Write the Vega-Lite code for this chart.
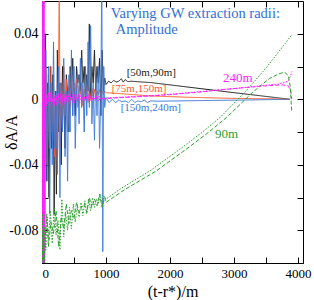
{
  "$schema": "https://vega.github.io/schema/vega-lite/v6.json",
  "width": 261,
  "height": 262,
  "autosize": "none",
  "padding": {"left": 42, "top": 1, "right": 11, "bottom": 37},
  "background": "white",
  "config": {
    "font": "Liberation Serif",
    "view": {"stroke": "black", "strokeWidth": 1},
    "axis": {"grid": false, "domainColor": "black", "tickColor": "black", "labelColor": "black", "titleColor": "black", "labelFont": "Liberation Serif", "titleFont": "Liberation Serif", "titleFontWeight": "normal", "labelFontSize": 14, "titleFontSize": 16}
  },
  "datasets": {
    "lines": [
      {"s":"[50m,90m]","t":0,"v":0.02},{"s":"[50m,90m]","t":10,"v":-0.11},{"s":"[50m,90m]","t":20,"v":0.07},{"s":"[50m,90m]","t":30,"v":-0.06},{"s":"[50m,90m]","t":50,"v":0.04},{"s":"[50m,90m]","t":70,"v":-0.05},{"s":"[50m,90m]","t":90,"v":0.01},{"s":"[50m,90m]","t":110,"v":-0.06},{"s":"[50m,90m]","t":130,"v":0.02},{"s":"[50m,90m]","t":150,"v":-0.03},{"s":"[50m,90m]","t":170,"v":0.015},{"s":"[50m,90m]","t":190,"v":-0.07},{"s":"[50m,90m]","t":210,"v":0.005},{"s":"[50m,90m]","t":225,"v":-0.058},{"s":"[50m,90m]","t":240,"v":0.03},{"s":"[50m,90m]","t":260,"v":-0.02},{"s":"[50m,90m]","t":280,"v":0.01},{"s":"[50m,90m]","t":300,"v":-0.04},{"s":"[50m,90m]","t":320,"v":0.02},{"s":"[50m,90m]","t":340,"v":0.0},{"s":"[50m,90m]","t":360,"v":-0.03},{"s":"[50m,90m]","t":380,"v":0.015},{"s":"[50m,90m]","t":400,"v":0.005},{"s":"[50m,90m]","t":420,"v":-0.02},{"s":"[50m,90m]","t":440,"v":0.02},{"s":"[50m,90m]","t":460,"v":0.0},{"s":"[50m,90m]","t":480,"v":0.025},{"s":"[50m,90m]","t":500,"v":0.005},{"s":"[50m,90m]","t":520,"v":-0.01},{"s":"[50m,90m]","t":540,"v":0.02},{"s":"[50m,90m]","t":560,"v":0.01},{"s":"[50m,90m]","t":580,"v":0.015},{"s":"[50m,90m]","t":600,"v":0.005},{"s":"[50m,90m]","t":620,"v":0.03},{"s":"[50m,90m]","t":640,"v":0.01},{"s":"[50m,90m]","t":660,"v":0.02},{"s":"[50m,90m]","t":680,"v":0.0},{"s":"[50m,90m]","t":700,"v":0.015},{"s":"[50m,90m]","t":720,"v":0.005},{"s":"[50m,90m]","t":740,"v":0.046},{"s":"[50m,90m]","t":760,"v":0.0},{"s":"[50m,90m]","t":780,"v":0.02},{"s":"[50m,90m]","t":800,"v":0.01},{"s":"[50m,90m]","t":820,"v":0.03},{"s":"[50m,90m]","t":840,"v":0.005},{"s":"[50m,90m]","t":860,"v":0.02},{"s":"[50m,90m]","t":880,"v":0.01},{"s":"[50m,90m]","t":900,"v":0.025},{"s":"[50m,90m]","t":920,"v":-0.01},{"s":"[50m,90m]","t":940,"v":0.03},{"s":"[50m,90m]","t":960,"v":0.005},{"s":"[50m,90m]","t":980,"v":0.013},{"s":"[50m,90m]","t":1000,"v":0.009},{"s":"[50m,90m]","t":1040,"v":0.011},{"s":"[50m,90m]","t":1080,"v":0.01},{"s":"[50m,90m]","t":1120,"v":0.0115},{"s":"[50m,90m]","t":1160,"v":0.0105},{"s":"[50m,90m]","t":1200,"v":0.011},{"s":"[50m,90m]","t":1240,"v":0.0125},{"s":"[50m,90m]","t":1270,"v":0.0105},{"s":"[50m,90m]","t":1300,"v":0.012},{"s":"[50m,90m]","t":1340,"v":0.0108},{"s":"[50m,90m]","t":1400,"v":0.011},{"s":"[50m,90m]","t":1500,"v":0.0107},{"s":"[50m,90m]","t":1700,"v":0.0102},{"s":"[50m,90m]","t":2100,"v":0.0083},{"s":"[50m,90m]","t":2500,"v":0.0064},{"s":"[50m,90m]","t":2940,"v":0.0043},{"s":"[50m,90m]","t":3400,"v":0.0022},{"s":"[50m,90m]","t":3870,"v":0.0},

      {"s":"[75m,150m]","t":0,"v":-0.02},{"s":"[75m,150m]","t":20,"v":0.05},{"s":"[75m,150m]","t":40,"v":-0.08},{"s":"[75m,150m]","t":60,"v":0.02},{"s":"[75m,150m]","t":80,"v":-0.04},{"s":"[75m,150m]","t":100,"v":0.015},{"s":"[75m,150m]","t":120,"v":-0.03},{"s":"[75m,150m]","t":140,"v":0.02},{"s":"[75m,150m]","t":160,"v":-0.02},{"s":"[75m,150m]","t":180,"v":0.01},{"s":"[75m,150m]","t":200,"v":-0.035},{"s":"[75m,150m]","t":220,"v":0.0},{"s":"[75m,150m]","t":240,"v":-0.046},{"s":"[75m,150m]","t":260,"v":0.03},{"s":"[75m,150m]","t":270,"v":0.065},{"s":"[75m,150m]","t":285,"v":-0.03},{"s":"[75m,150m]","t":300,"v":0.01},{"s":"[75m,150m]","t":320,"v":-0.015},{"s":"[75m,150m]","t":340,"v":0.02},{"s":"[75m,150m]","t":360,"v":-0.01},{"s":"[75m,150m]","t":380,"v":0.012},{"s":"[75m,150m]","t":400,"v":-0.02},{"s":"[75m,150m]","t":420,"v":0.008},{"s":"[75m,150m]","t":440,"v":-0.005},{"s":"[75m,150m]","t":460,"v":0.015},{"s":"[75m,150m]","t":480,"v":-0.01},{"s":"[75m,150m]","t":500,"v":0.01},{"s":"[75m,150m]","t":520,"v":0.0},{"s":"[75m,150m]","t":540,"v":0.012},{"s":"[75m,150m]","t":560,"v":-0.005},{"s":"[75m,150m]","t":580,"v":0.008},{"s":"[75m,150m]","t":600,"v":0.003},{"s":"[75m,150m]","t":620,"v":0.01},{"s":"[75m,150m]","t":640,"v":-0.004},{"s":"[75m,150m]","t":660,"v":0.006},{"s":"[75m,150m]","t":680,"v":0.002},{"s":"[75m,150m]","t":700,"v":0.008},{"s":"[75m,150m]","t":720,"v":-0.002},{"s":"[75m,150m]","t":740,"v":0.006},{"s":"[75m,150m]","t":760,"v":0.0},{"s":"[75m,150m]","t":780,"v":0.007},{"s":"[75m,150m]","t":800,"v":0.002},{"s":"[75m,150m]","t":820,"v":0.006},{"s":"[75m,150m]","t":840,"v":0.0},{"s":"[75m,150m]","t":860,"v":0.005},{"s":"[75m,150m]","t":880,"v":0.003},{"s":"[75m,150m]","t":900,"v":0.006},{"s":"[75m,150m]","t":920,"v":0.001},{"s":"[75m,150m]","t":940,"v":0.005},{"s":"[75m,150m]","t":960,"v":0.003},{"s":"[75m,150m]","t":980,"v":0.005},{"s":"[75m,150m]","t":1000,"v":0.004},{"s":"[75m,150m]","t":1200,"v":0.0035},{"s":"[75m,150m]","t":1700,"v":0.002},{"s":"[75m,150m]","t":2300,"v":0.0012},{"s":"[75m,150m]","t":2900,"v":0.0006},{"s":"[75m,150m]","t":3500,"v":0.0003},{"s":"[75m,150m]","t":3870,"v":0.0},

      {"s":"[150m,240m]","t":0,"v":0.0},{"s":"[150m,240m]","t":20,"v":0.04},{"s":"[150m,240m]","t":40,"v":-0.11},{"s":"[150m,240m]","t":60,"v":0.03},{"s":"[150m,240m]","t":80,"v":-0.05},{"s":"[150m,240m]","t":100,"v":0.02},{"s":"[150m,240m]","t":120,"v":-0.07},{"s":"[150m,240m]","t":140,"v":0.01},{"s":"[150m,240m]","t":160,"v":-0.04},{"s":"[150m,240m]","t":180,"v":0.035},{"s":"[150m,240m]","t":200,"v":-0.03},{"s":"[150m,240m]","t":220,"v":0.005},{"s":"[150m,240m]","t":240,"v":-0.045},{"s":"[150m,240m]","t":260,"v":0.02},{"s":"[150m,240m]","t":280,"v":-0.06},{"s":"[150m,240m]","t":300,"v":0.01},{"s":"[150m,240m]","t":320,"v":-0.02},{"s":"[150m,240m]","t":340,"v":0.025},{"s":"[150m,240m]","t":360,"v":-0.035},{"s":"[150m,240m]","t":380,"v":0.005},{"s":"[150m,240m]","t":400,"v":-0.05},{"s":"[150m,240m]","t":420,"v":0.015},{"s":"[150m,240m]","t":440,"v":-0.02},{"s":"[150m,240m]","t":460,"v":0.03},{"s":"[150m,240m]","t":480,"v":-0.01},{"s":"[150m,240m]","t":500,"v":0.02},{"s":"[150m,240m]","t":520,"v":-0.03},{"s":"[150m,240m]","t":540,"v":0.005},{"s":"[150m,240m]","t":560,"v":0.015},{"s":"[150m,240m]","t":580,"v":-0.015},{"s":"[150m,240m]","t":600,"v":0.025},{"s":"[150m,240m]","t":620,"v":-0.005},{"s":"[150m,240m]","t":640,"v":0.01},{"s":"[150m,240m]","t":660,"v":-0.02},{"s":"[150m,240m]","t":680,"v":0.02},{"s":"[150m,240m]","t":700,"v":-0.01},{"s":"[150m,240m]","t":720,"v":0.035},{"s":"[150m,240m]","t":740,"v":-0.005},{"s":"[150m,240m]","t":760,"v":0.045},{"s":"[150m,240m]","t":780,"v":-0.015},{"s":"[150m,240m]","t":800,"v":0.01},{"s":"[150m,240m]","t":820,"v":-0.025},{"s":"[150m,240m]","t":840,"v":0.015},{"s":"[150m,240m]","t":860,"v":-0.01},{"s":"[150m,240m]","t":880,"v":0.02},{"s":"[150m,240m]","t":900,"v":-0.03},{"s":"[150m,240m]","t":920,"v":0.005},{"s":"[150m,240m]","t":935,"v":0.08},{"s":"[150m,240m]","t":950,"v":-0.093},{"s":"[150m,240m]","t":965,"v":0.02},{"s":"[150m,240m]","t":980,"v":-0.005},{"s":"[150m,240m]","t":1000,"v":0.001},{"s":"[150m,240m]","t":1050,"v":-0.002},{"s":"[150m,240m]","t":1100,"v":0.0},{"s":"[150m,240m]","t":1150,"v":-0.002},{"s":"[150m,240m]","t":1200,"v":-0.0005},{"s":"[150m,240m]","t":1250,"v":-0.0015},{"s":"[150m,240m]","t":1300,"v":-0.001},{"s":"[150m,240m]","t":1350,"v":-0.002},{"s":"[150m,240m]","t":1400,"v":0.0},{"s":"[150m,240m]","t":1450,"v":-0.002},{"s":"[150m,240m]","t":1500,"v":-0.001},{"s":"[150m,240m]","t":1550,"v":-0.0015},{"s":"[150m,240m]","t":1600,"v":-0.0005},{"s":"[150m,240m]","t":1650,"v":-0.002},{"s":"[150m,240m]","t":1700,"v":-0.001},{"s":"[150m,240m]","t":1800,"v":-0.0012},{"s":"[150m,240m]","t":2500,"v":-0.0008},{"s":"[150m,240m]","t":3300,"v":-0.0004},{"s":"[150m,240m]","t":3870,"v":0.0},

      {"s":"240m","t":0,"v":0.07},{"s":"240m","t":6,"v":-0.11},{"s":"240m","t":12,"v":0.07},{"s":"240m","t":18,"v":-0.11},{"s":"240m","t":24,"v":0.07},{"s":"240m","t":30,"v":-0.11},{"s":"240m","t":36,"v":0.07},{"s":"240m","t":42,"v":-0.11},{"s":"240m","t":50,"v":0.002},{"s":"240m","t":70,"v":-0.004},{"s":"240m","t":90,"v":0.003},{"s":"240m","t":110,"v":-0.002},{"s":"240m","t":130,"v":0.004},{"s":"240m","t":150,"v":-0.003},{"s":"240m","t":170,"v":0.001},{"s":"240m","t":190,"v":-0.004},{"s":"240m","t":210,"v":0.003},{"s":"240m","t":230,"v":-0.001},{"s":"240m","t":250,"v":0.004},{"s":"240m","t":270,"v":-0.003},{"s":"240m","t":290,"v":0.002},{"s":"240m","t":310,"v":-0.004},{"s":"240m","t":330,"v":0.003},{"s":"240m","t":350,"v":0.0},{"s":"240m","t":370,"v":0.004},{"s":"240m","t":390,"v":-0.002},{"s":"240m","t":410,"v":0.003},{"s":"240m","t":430,"v":-0.003},{"s":"240m","t":450,"v":0.002},{"s":"240m","t":470,"v":0.0},{"s":"240m","t":490,"v":0.004},{"s":"240m","t":510,"v":-0.002},{"s":"240m","t":530,"v":0.003},{"s":"240m","t":550,"v":0.0},{"s":"240m","t":570,"v":0.003},{"s":"240m","t":590,"v":-0.002},{"s":"240m","t":610,"v":0.002},{"s":"240m","t":630,"v":0.0},{"s":"240m","t":650,"v":0.003},{"s":"240m","t":670,"v":-0.001},{"s":"240m","t":690,"v":0.002},{"s":"240m","t":710,"v":0.0},{"s":"240m","t":730,"v":0.003},{"s":"240m","t":750,"v":-0.001},{"s":"240m","t":770,"v":0.002},{"s":"240m","t":790,"v":0.0},{"s":"240m","t":810,"v":0.002},{"s":"240m","t":830,"v":-0.001},{"s":"240m","t":850,"v":0.002},{"s":"240m","t":870,"v":0.0},{"s":"240m","t":890,"v":0.002},{"s":"240m","t":910,"v":0.0},{"s":"240m","t":930,"v":0.001},{"s":"240m","t":960,"v":0.0},{"s":"240m","t":1000,"v":0.0008},{"s":"240m","t":1500,"v":0.0018},{"s":"240m","t":2000,"v":0.003},{"s":"240m","t":2500,"v":0.0048},{"s":"240m","t":3000,"v":0.0065},{"s":"240m","t":3400,"v":0.0082},{"s":"240m","t":3700,"v":0.0093},{"s":"240m","t":3850,"v":0.011},{"s":"240m","t":3910,"v":0.017},

      {"s":"240m b","t":3,"v":0.07},{"s":"240m b","t":9,"v":-0.11},{"s":"240m b","t":15,"v":0.07},{"s":"240m b","t":21,"v":-0.11},{"s":"240m b","t":27,"v":0.07},{"s":"240m b","t":33,"v":-0.11},{"s":"240m b","t":45,"v":-0.004},{"s":"240m b","t":60,"v":0.003},{"s":"240m b","t":80,"v":-0.003},{"s":"240m b","t":100,"v":0.004},{"s":"240m b","t":120,"v":-0.004},{"s":"240m b","t":140,"v":0.002},{"s":"240m b","t":160,"v":-0.002},{"s":"240m b","t":180,"v":0.004},{"s":"240m b","t":200,"v":-0.003},{"s":"240m b","t":220,"v":0.002},{"s":"240m b","t":240,"v":-0.004},{"s":"240m b","t":260,"v":0.003},{"s":"240m b","t":280,"v":0.0},{"s":"240m b","t":300,"v":0.004},{"s":"240m b","t":320,"v":-0.002},{"s":"240m b","t":340,"v":0.003},{"s":"240m b","t":360,"v":-0.003},{"s":"240m b","t":380,"v":0.002},{"s":"240m b","t":400,"v":-0.001},{"s":"240m b","t":440,"v":0.003},{"s":"240m b","t":480,"v":-0.002},{"s":"240m b","t":520,"v":0.003},{"s":"240m b","t":560,"v":-0.001},{"s":"240m b","t":600,"v":0.003},{"s":"240m b","t":640,"v":-0.001},{"s":"240m b","t":680,"v":0.002},{"s":"240m b","t":720,"v":-0.001},{"s":"240m b","t":760,"v":0.002},{"s":"240m b","t":800,"v":0.0},{"s":"240m b","t":840,"v":0.002},{"s":"240m b","t":880,"v":-0.001},{"s":"240m b","t":920,"v":0.001},{"s":"240m b","t":960,"v":0.0},{"s":"240m b","t":1000,"v":0.0005},{"s":"240m b","t":1500,"v":0.0015},{"s":"240m b","t":2000,"v":0.0028},{"s":"240m b","t":2500,"v":0.0045},{"s":"240m b","t":2800,"v":0.0058},{"s":"240m b","t":3200,"v":0.0072},{"s":"240m b","t":3500,"v":0.0082},{"s":"240m b","t":3750,"v":0.0088},{"s":"240m b","t":3850,"v":0.0082},{"s":"240m b","t":3890,"v":0.005},{"s":"240m b","t":3905,"v":0.0},

      {"s":"90m","t":0,"v":-0.11},{"s":"90m","t":10,"v":-0.07},{"s":"90m","t":20,"v":-0.105},{"s":"90m","t":40,"v":-0.078},{"s":"90m","t":60,"v":-0.092},{"s":"90m","t":80,"v":-0.072},{"s":"90m","t":100,"v":-0.086},{"s":"90m","t":130,"v":-0.068},{"s":"90m","t":160,"v":-0.088},{"s":"90m","t":190,"v":-0.066},{"s":"90m","t":220,"v":-0.083},{"s":"90m","t":250,"v":-0.074},{"s":"90m","t":280,"v":-0.092},{"s":"90m","t":310,"v":-0.061},{"s":"90m","t":340,"v":-0.084},{"s":"90m","t":370,"v":-0.07},{"s":"90m","t":400,"v":-0.08},{"s":"90m","t":430,"v":-0.066},{"s":"90m","t":460,"v":-0.079},{"s":"90m","t":490,"v":-0.064},{"s":"90m","t":520,"v":-0.075},{"s":"90m","t":550,"v":-0.066},{"s":"90m","t":580,"v":-0.072},{"s":"90m","t":610,"v":-0.063},{"s":"90m","t":640,"v":-0.071},{"s":"90m","t":670,"v":-0.062},{"s":"90m","t":700,"v":-0.07},{"s":"90m","t":730,"v":-0.061},{"s":"90m","t":760,"v":-0.068},{"s":"90m","t":790,"v":-0.06},{"s":"90m","t":820,"v":-0.066},{"s":"90m","t":850,"v":-0.061},{"s":"90m","t":880,"v":-0.064},{"s":"90m","t":910,"v":-0.058},{"s":"90m","t":940,"v":-0.065},{"s":"90m","t":970,"v":-0.059},{"s":"90m","t":1000,"v":-0.061},{"s":"90m","t":1215,"v":-0.055},{"s":"90m","t":1685,"v":-0.0438},{"s":"90m","t":2155,"v":-0.0305},{"s":"90m","t":2500,"v":-0.0203},{"s":"90m","t":2782,"v":-0.0112},{"s":"90m","t":3200,"v":0.0055},{"s":"90m","t":3500,"v":0.019},{"s":"90m","t":3671,"v":0.0275},{"s":"90m","t":3800,"v":0.034},{"s":"90m","t":3911,"v":0.0397},

      {"s":"90m b","t":0,"v":-0.11},{"s":"90m b","t":15,"v":-0.08},{"s":"90m b","t":30,"v":-0.105},{"s":"90m b","t":50,"v":-0.085},{"s":"90m b","t":75,"v":-0.07},{"s":"90m b","t":100,"v":-0.09},{"s":"90m b","t":140,"v":-0.075},{"s":"90m b","t":180,"v":-0.082},{"s":"90m b","t":220,"v":-0.068},{"s":"90m b","t":260,"v":-0.09},{"s":"90m b","t":300,"v":-0.072},{"s":"90m b","t":340,"v":-0.079},{"s":"90m b","t":380,"v":-0.064},{"s":"90m b","t":420,"v":-0.076},{"s":"90m b","t":460,"v":-0.068},{"s":"90m b","t":500,"v":-0.073},{"s":"90m b","t":540,"v":-0.063},{"s":"90m b","t":580,"v":-0.069},{"s":"90m b","t":620,"v":-0.066},{"s":"90m b","t":660,"v":-0.064},{"s":"90m b","t":700,"v":-0.069},{"s":"90m b","t":740,"v":-0.06},{"s":"90m b","t":780,"v":-0.066},{"s":"90m b","t":820,"v":-0.061},{"s":"90m b","t":860,"v":-0.065},{"s":"90m b","t":900,"v":-0.058},{"s":"90m b","t":940,"v":-0.066},{"s":"90m b","t":980,"v":-0.06},{"s":"90m b","t":1000,"v":-0.063},{"s":"90m b","t":1300,"v":-0.055},{"s":"90m b","t":1785,"v":-0.0438},{"s":"90m b","t":2255,"v":-0.0305},{"s":"90m b","t":2600,"v":-0.0203},{"s":"90m b","t":2882,"v":-0.0112},{"s":"90m b","t":3300,"v":0.0045},{"s":"90m b","t":3550,"v":0.0125},{"s":"90m b","t":3700,"v":0.0155},{"s":"90m b","t":3790,"v":0.0165},{"s":"90m b","t":3850,"v":0.0145},{"s":"90m b","t":3880,"v":0.008},{"s":"90m b","t":3895,"v":-0.002},{"s":"90m b","t":3905,"v":-0.008}
    ],
    "labels": [
      {"s":"[50m,90m]","t":1324,"v":0.0159},
      {"s":"[75m,150m]","t":1089,"v":0.0061},
      {"s":"[150m,240m]","t":1230,"v":-0.0055}
    ],
    "biglabels": [
      {"s":"240m","t":2829,"v":0.0128},
      {"s":"90m","t":2704,"v":-0.0214}
    ],
    "titles": [
      {"text":"Varying GW extraction radii:","t":1074,"v":0.0519},
      {"text":"Amplitude","t":1152,"v":0.0421}
    ]
  },
  "resolve": {"axis": {"x": "independent", "y": "independent"}},
  "layer": [
    {
      "data": {"name": "lines"},
      "mark": {"type": "line", "clip": true, "strokeWidth": 1, "interpolate": "linear"},
      "encoding": {
        "x": {"field": "t", "type": "quantitative", "scale": {"domain": [0, 4080], "nice": false, "zero": false},
              "axis": {"orient": "bottom", "title": "(t-r*)/m", "values": [0,500,1000,1500,2000,2500,3000,3500,4000], "format": "d", "labelExpr": "datum.value % 1000 == 0 ? datum.label : ''", "tickSize": -6, "labelPadding": 10, "labelFontSize": 13, "titleFontSize": 16, "titleY": 28, "titleBaseline": "middle"}},
        "y": {"field": "v", "type": "quantitative", "scale": {"domain": [-0.1, 0.06], "nice": false, "zero": false},
              "axis": {"orient": "left", "title": "δA/A", "values": [-0.08,-0.06,-0.04,-0.02,0,0.02,0.04], "labelExpr": "datum.value == 0.04 ? '0.04' : datum.value == 0 ? '0' : datum.value == -0.04 ? '-0.04' : datum.value == -0.08 ? '-0.08' : ''", "tickSize": -6, "labelPadding": 10, "labelFontSize": 14, "titleFontSize": 16, "titleX": -31, "titleY": 131, "titleAngle": -90, "titleAlign": "center", "titleBaseline": "middle"}},
        "color": {"field": "s", "type": "nominal", "legend": null,
                  "scale": {"domain": ["[50m,90m]","[75m,150m]","[150m,240m]","240m","240m b","90m","90m b"], "range": ["#1a1a1a","#ff5a28","#3a78d8","#ff22ff","#ff22ff","#2ca02c","#2ca02c"]}},
        "strokeDash": {"field": "s", "type": "nominal", "legend": null,
                  "scale": {"domain": ["[50m,90m]","[75m,150m]","[150m,240m]","240m","240m b","90m","90m b"], "range": [[1,0],[1,0],[1,0],[1.5,1.5],[4,2],[1.5,1.5],[4,2]]}}
      }
    },
    {
      "data": {"name": "labels"},
      "mark": {"type": "text", "align": "left", "baseline": "middle", "fontSize": 11, "font": "Liberation Serif"},
      "encoding": {
        "x": {"field": "t", "type": "quantitative", "axis": null},
        "y": {"field": "v", "type": "quantitative", "axis": null},
        "text": {"field": "s"},
        "color": {"field": "s", "type": "nominal", "legend": null}
      }
    },
    {
      "data": {"name": "biglabels"},
      "mark": {"type": "text", "align": "left", "baseline": "middle", "fontSize": 13, "font": "Liberation Serif"},
      "encoding": {
        "x": {"field": "t", "type": "quantitative", "axis": {"orient": "top", "values": [0,500,1000,1500,2000,2500,3000,3500,4000], "labels": false, "tickSize": -6, "title": null, "domain": false}},
        "y": {"field": "v", "type": "quantitative", "axis": {"orient": "right", "values": [-0.08,-0.06,-0.04,-0.02,0,0.02,0.04], "labels": false, "tickSize": -6, "title": null, "domain": false}},
        "text": {"field": "s"},
        "color": {"field": "s", "type": "nominal", "legend": null}
      }
    },
    {
      "data": {"name": "titles"},
      "mark": {"type": "text", "align": "left", "baseline": "middle", "fontSize": 14.5, "font": "Liberation Serif", "color": "#2f6fd6"},
      "encoding": {
        "x": {"field": "t", "type": "quantitative", "axis": null},
        "y": {"field": "v", "type": "quantitative", "axis": null},
        "text": {"field": "text"}
      }
    }
  ]
}
